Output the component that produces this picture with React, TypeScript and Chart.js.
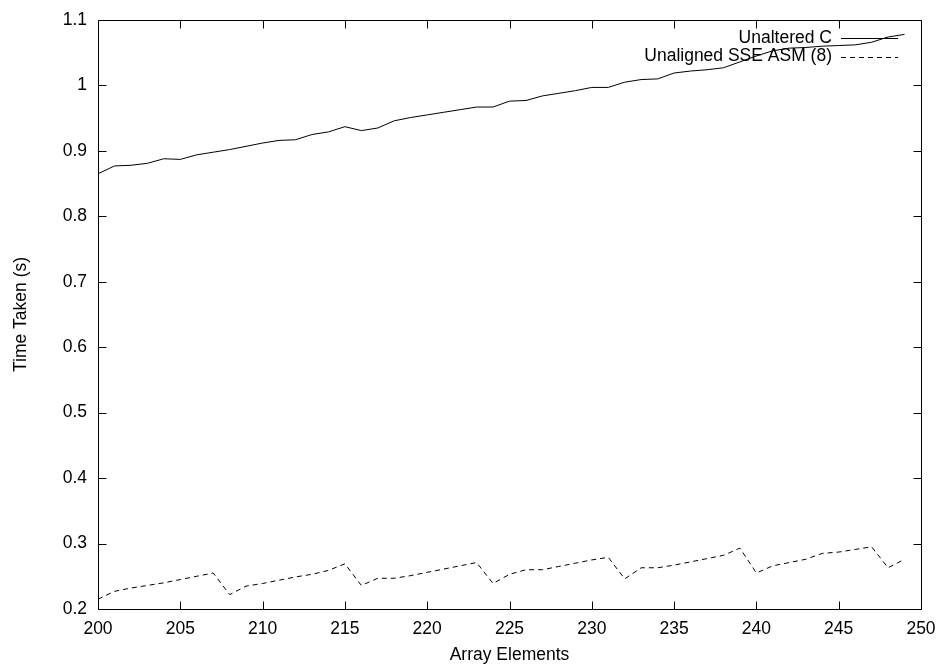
import React, { useEffect, useRef } from "react";
import { Chart, registerables } from "chart.js";

Chart.register(...registerables);

const arrayElements = [
  200, 201, 202, 203, 204, 205, 206, 207, 208, 209,
  210, 211, 212, 213, 214, 215, 216, 217, 218, 219,
  220, 221, 222, 223, 224, 225, 226, 227, 228, 229,
  230, 231, 232, 233, 234, 235, 236, 237, 238, 239,
  240, 241, 242, 243, 244, 245, 246, 247, 248, 249,
];

const unalteredC = [
  0.865, 0.877, 0.878, 0.881, 0.888, 0.887, 0.894, 0.898, 0.902, 0.907,
  0.912, 0.916, 0.917, 0.925, 0.929, 0.937, 0.931, 0.935, 0.946, 0.951,
  0.955, 0.959, 0.963, 0.967, 0.967, 0.976, 0.977, 0.984, 0.988, 0.992,
  0.997, 0.997, 1.005, 1.009, 1.010, 1.019, 1.022, 1.024, 1.027, 1.036,
  1.045, 1.053, 1.057, 1.058, 1.060, 1.061, 1.062, 1.066, 1.074, 1.078,
];

const unalignedSSE = [
  0.215, 0.227, 0.232, 0.236, 0.240, 0.245, 0.250, 0.255, 0.222, 0.235,
  0.239, 0.244, 0.249, 0.253, 0.259, 0.269, 0.236, 0.247, 0.247, 0.251,
  0.256, 0.261, 0.266, 0.271, 0.239, 0.253, 0.260, 0.260, 0.265, 0.270,
  0.275, 0.279, 0.246, 0.263, 0.263, 0.267, 0.272, 0.277, 0.282, 0.293,
  0.255, 0.266, 0.271, 0.276, 0.285, 0.287, 0.291, 0.295, 0.263, 0.276,
];

const seriesLabels = ["Unaltered C", "Unaligned SSE ASM (8)"];
const xTickValues = [200, 205, 210, 215, 220, 225, 230, 235, 240, 245, 250];
const yTickValues = [0.2, 0.3, 0.4, 0.5, 0.6, 0.7, 0.8, 0.9, 1.0, 1.1];
const xAxisTitle = "Array Elements";
const yAxisTitle = "Time Taken (s)";

const FONT = '"Liberation Sans", Arial, Helvetica, sans-serif';
const FONT_SIZE = 17.5;

const framePlugin = {
  id: "gnuFrame",
  afterDatasetsDraw(chart: any) {
    const { ctx, chartArea: a, scales } = chart;
    const L = Math.round(a.left) + 0.5;
    const R = Math.round(a.right) + 0.5;
    const T = Math.round(a.top) + 0.5;
    const B = Math.round(a.bottom) + 0.5;
    const tick = 8;
    ctx.save();
    ctx.strokeStyle = "#000";
    ctx.lineWidth = 1;
    ctx.setLineDash([]);
    ctx.beginPath();
    ctx.rect(L, T, R - L, B - T);
    for (const t of scales.x.ticks) {
      const px = Math.round(scales.x.getPixelForValue(t.value)) + 0.5;
      ctx.moveTo(px, B);
      ctx.lineTo(px, B - tick);
      ctx.moveTo(px, T);
      ctx.lineTo(px, T + tick);
    }
    for (const t of scales.y.ticks) {
      const py = Math.round(scales.y.getPixelForValue(t.value)) + 0.5;
      ctx.moveTo(L, py);
      ctx.lineTo(L + tick, py);
      ctx.moveTo(R, py);
      ctx.lineTo(R - tick, py);
    }
    ctx.stroke();
    ctx.restore();
  },
};

const keyPlugin = {
  id: "gnuKey",
  beforeDatasetsDraw(chart: any) {
    const { ctx, chartArea: a } = chart;
    ctx.save();
    ctx.font = `${FONT_SIZE}px ${FONT}`;
    ctx.textAlign = "right";
    ctx.textBaseline = "middle";
    ctx.fillStyle = "#000";
    chart.data.datasets.forEach((ds: any, i: number) => {
      const y = a.top + 18 + i * 18.5;
      ctx.fillText(ds.label, a.right - 89, y);
      ctx.beginPath();
      ctx.setLineDash(ds.borderDash || []);
      ctx.lineWidth = 1;
      ctx.strokeStyle = "#000";
      const ly = Math.round(y) + 0.5;
      ctx.moveTo(a.right - 80, ly);
      ctx.lineTo(a.right - 23, ly);
      ctx.stroke();
    });
    ctx.restore();
  },
};

const noScalePadding = (scale: any) => {
  scale.paddingLeft = 0;
  scale.paddingRight = 0;
  scale.paddingTop = 0;
  scale.paddingBottom = 0;
};

export default function App() {
  const ref = useRef<HTMLCanvasElement | null>(null);

  useEffect(() => {
    if (!ref.current) return;
    const font = { family: FONT, size: FONT_SIZE };
    const chart = new Chart(ref.current, {
      type: "line",
      data: {
        datasets: [
          {
            label: seriesLabels[0],
            data: arrayElements.map((x, i) => ({ x, y: unalteredC[i] })),
            borderColor: "#000",
            borderWidth: 1,
            pointRadius: 0,
            tension: 0,
            fill: false,
          },
          {
            label: seriesLabels[1],
            data: arrayElements.map((x, i) => ({ x, y: unalignedSSE[i] })),
            borderColor: "#000",
            borderWidth: 1,
            borderDash: [5, 4],
            pointRadius: 0,
            tension: 0,
            fill: false,
          },
        ],
      },
      options: {
        animation: false,
        responsive: false,
        devicePixelRatio: 1,
        layout: { padding: { left: 0, right: 20, top: 20, bottom: 0 } },
        plugins: {
          legend: { display: false },
          tooltip: { enabled: false },
        },
        scales: {
          x: {
            type: "linear",
            min: 200,
            max: 250,
            afterBuildTicks: (scale: any) => {
              scale.ticks = xTickValues.map((v) => ({ value: v }));
            },
            afterFit: (scale: any) => {
              scale.height = 59;
              noScalePadding(scale);
            },
            grid: { display: false, drawTicks: false },
            border: { display: false },
            ticks: {
              color: "#000",
              font,
              padding: 10,
              maxRotation: 0,
              autoSkip: false,
              callback: (v: any) => String(v),
            },
            title: {
              display: true,
              text: xAxisTitle,
              color: "#000",
              font,
              padding: { top: 0, bottom: 2 },
            },
          },
          y: {
            type: "linear",
            min: 0.2,
            max: 1.1,
            afterBuildTicks: (scale: any) => {
              scale.ticks = yTickValues.map((v) => ({ value: v }));
            },
            afterFit: (scale: any) => {
              scale.width = 98;
              noScalePadding(scale);
            },
            grid: { display: false, drawTicks: false },
            border: { display: false },
            ticks: {
              color: "#000",
              font,
              padding: 11,
              autoSkip: false,
              callback: (v: any) => String(Math.round(Number(v) * 10) / 10),
            },
            title: {
              display: true,
              text: yAxisTitle,
              color: "#000",
              font,
              padding: { top: 10.5, bottom: 0 },
            },
          },
        },
      },
      plugins: [keyPlugin, framePlugin],
    } as any);
    return () => chart.destroy();
  }, []);

  return (
    <div style={{ position: "fixed", left: 0, top: 0, width: 941, height: 668, background: "#fff" }}>
      <canvas ref={ref} width={941} height={668} style={{ display: "block", width: 941, height: 668 }} />
    </div>
  );
}
